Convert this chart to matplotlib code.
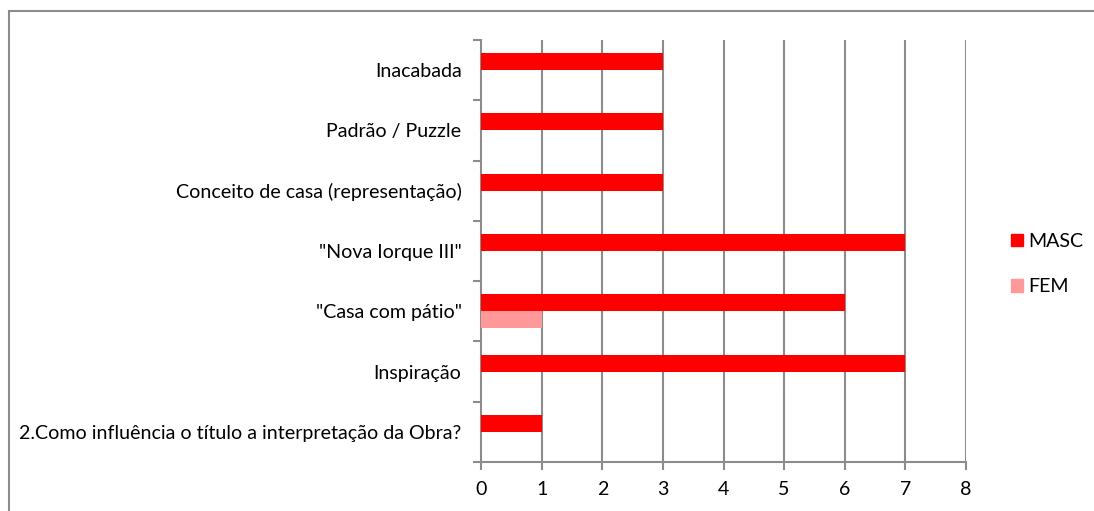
import matplotlib
matplotlib.use("Agg")
import matplotlib.pyplot as plt
from matplotlib.patches import Patch, Rectangle
import numpy as np

categories = ["2.Como influência o título a interpretação da Obra?",
              "Inspiração",
              "\"Casa com pátio\"",
              "\"Nova Iorque III\"",
              "Conceito de casa (representação)",
              "Padrão / Puzzle",
              "Inacabada"]
masc = [1, 7, 6, 7, 3, 3, 3]
fem = [0, 0, 1, 0, 0, 0, 0]
series_names = ["MASC", "FEM"]
xticks = list(range(0, 9))

plt.rcParams['font.family'] = ['Lato', 'DejaVu Sans']
W, H = 1094, 511
fig = plt.figure(figsize=(W / 100, H / 100), dpi=100)
ax = fig.add_axes([481 / W, 1 - 462 / H, (966 - 481) / W, (462 - 40) / H])

grid_c = "#8c8c8c"
y = np.arange(len(categories))
bh = 0.283
ax.barh(y + bh / 2, masc, height=bh, color="#ff0000", zorder=3)
ax.barh(y - bh / 2, fem, height=bh, color="#ff9999", zorder=3)

fs = 14.1
ax.set_xlim(0, 8)
ax.set_ylim(-0.5, len(categories) - 0.5)
ax.set_xticks(xticks)
ax.set_xticklabels([str(t) for t in xticks], fontsize=fs)
ax.set_yticks(y)
ax.set_yticklabels(categories, fontsize=fs)
ax.tick_params(axis='y', length=0, pad=14)
ax.set_yticks(np.arange(-0.5, len(categories), 1), minor=True)
ax.tick_params(axis='y', which='minor', length=6, color=grid_c, width=1.5, direction='out')
ax.tick_params(axis='x', length=6, color=grid_c, width=1.5, pad=8)
for xv in xticks[1:]:
    ax.axvline(xv, color=grid_c, lw=1.5, zorder=1)
for s in ['top', 'right']:
    ax.spines[s].set_visible(False)
for s in ['left', 'bottom']:
    ax.spines[s].set_color(grid_c)
    ax.spines[s].set_linewidth(1.5)

handles = [Patch(color="#ff0000"), Patch(color="#ff9999")]
fig.legend(handles, series_names, loc='center left', bbox_to_anchor=(1011 / W, 1 - 264 / H),
           frameon=False, fontsize=fs, handlelength=0.6, handleheight=0.6,
           handletextpad=0.3, labelspacing=1.45, borderpad=0, borderaxespad=0)

fig.patches.append(Rectangle((9 / W, -0.1), 1.2, (1 - 11 / H) + 0.1, transform=fig.transFigure,
                             fill=False, edgecolor="#8c8c8c", lw=1.5))

fig.savefig("out.png", dpi=100)
